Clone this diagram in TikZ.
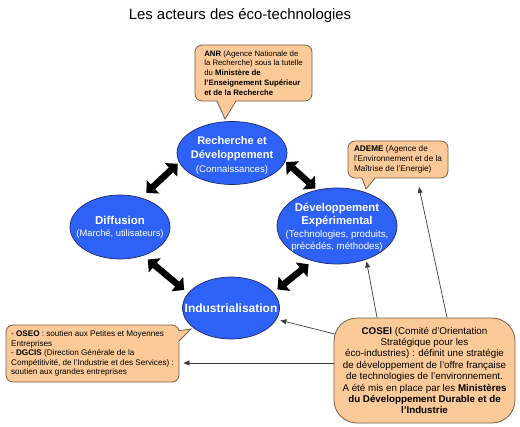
\documentclass[tikz,border=0pt]{standalone}
\usepackage{fontspec}
\setmainfont{Liberation Sans}
\usetikzlibrary{arrows.meta,shapes.geometric,calc}
\newcommand{\myfs}[2]{\fontsize{#1}{#2}\selectfont}
\definecolor{ellblue}{RGB}{46,98,246}
\definecolor{ellline}{RGB}{30,40,110}
\definecolor{callfill}{RGB}{251,202,152}
\definecolor{callline}{RGB}{115,95,75}
\definecolor{thinline}{RGB}{60,60,60}
\begin{document}
\begin{tikzpicture}[x=0.75pt,y=-0.75pt,
  ell/.style={ellipse, draw=ellline, fill=ellblue, line width=0.525pt, inner sep=0pt},
  elltxt/.style={text=white, align=center, inner sep=0pt},
  callbox/.style={draw=callline, fill=callfill, line width=0.6pt, rounded corners=5.25pt, inner sep=0pt},
  tailline/.style={draw=callline, line width=0.6pt, line join=miter},
  dbl/.style={line width=4.875pt, {Triangle[length=6.75pt,width=13.5pt]}-{Triangle[length=6.75pt,width=13.5pt]}},
  thinarr/.style={draw=thinline, line width=0.525pt, -{Triangle[length=4.5pt,width=3.75pt]}}
]
\fill[white] (0,0) rectangle (520,427);
\useasboundingbox (0,0) rectangle (520,427);

\node[font=\myfs{11.2}{13}, anchor=base] (title) at (240,20) {Les acteurs des éco-technologies};

% ellipses
\node[ell, minimum width=82.5pt, minimum height=47.25pt] (rd) at (232,153) {};
\node[elltxt, font=\myfs{8.3}{10.5}] (rdT) at (232,155) {\textbf{Recherche et}\\\textbf{Développement}\\{\myfs{7.2}{10.5}(Connaissances)}};

\node[ell, minimum width=75pt, minimum height=48pt] (diff) at (120,227) {};
\node[elltxt, font=\myfs{8.6}{9}] (diffT) at (120,227.5) {\textbf{Diffusion}\\{\myfs{7}{9}(Marché, utilisateurs)}};

\node[ell, minimum width=90pt, minimum height=57pt] (dev) at (337,226) {};
\node[elltxt, font=\myfs{8.5}{9.6}] (devT) at (337,227.5) {\textbf{Développement}\\\textbf{Expérimental}\\{\myfs{7.3}{9.4}(Technologies, produits,}\\{\myfs{7.3}{9.4}précédés, méthodes)}};

\node[ell, minimum width=72.75pt, minimum height=46.5pt] (ind) at (231,308) {};
\node[elltxt, font=\myfs{9}{10}\bfseries] (indT) at (231,308) {Industrialisation};

% double arrows
\draw[dbl, shorten <=5.25pt, shorten >=1.5pt] (diff.54) -- (rd.190);
\draw[dbl, shorten <=0.75pt, shorten >=1.5pt] (rd.351) -- (dev.119);
\draw[dbl, shorten <=4.5pt, shorten >=3.75pt] (diff.309) -- (ind.161);
\draw[dbl, shorten <=3.75pt, shorten >=3.75pt] (ind.20) -- (dev.235);

% ANR callout
\node[callbox, minimum width=87.75pt, minimum height=42pt, align=left, font=\myfs{5.85}{7.35}] (anr) at (253.5,73)
 {\textbf{ANR} (Agence Nationale de\\la Recherche) sous la tutelle\\du \textbf{Ministère de}\\\textbf{l’Enseignement Supérieur}\\\textbf{et de la Recherche}};
\fill[callfill] (217,99.5) -- (225,119) -- (236,99.5) -- cycle;
\draw[tailline] (217,101) -- (225,119) -- (236,101);

% ADEME callout
\node[callbox, minimum width=75pt, minimum height=27.75pt, align=left, font=\myfs{6.15}{7.5}] (ademe) at (398,159.5)
 {\textbf{ADEME} (Agence de\\l’Environnement et de la\\Maîtrise de l’Energie)};
\fill[callfill] (362,176.5) -- (366,189) -- (375,176.5) -- cycle;
\draw[tailline] (362,178) -- (366,189) -- (375,178);

% OSEO / DGCIS callout
\node[callbox, minimum width=129.75pt, minimum height=42.75pt, align=left, font=\myfs{6.1}{7.2}] (oseo) at (92.5,353.5)
 {- \textbf{OSEO} : soutien aux Petites et Moyennes\\Entreprises\\- \textbf{DGCIS} (Direction Générale de la\\Compétitivité, de l’Industrie et des Services) :\\soutien aux grandes entreprises};
\fill[callfill] (177,331) -- (191,329) -- (179,341) -- (177,341) -- cycle;
\draw[tailline] (178.6,330.8) -- (191,329) -- (179,341);

% COSEI
\node[callbox, rounded corners=17.25pt, minimum width=135.75pt, minimum height=78.75pt, align=center, font=\myfs{7.35}{8.55}] (cosei) at (424.5,370.5)
 {\textbf{COSEI} (Comité d’Orientation\\Stratégique pour les\\éco-industries) : définit une stratégie\\de développement de l’offre française\\de technologies de l’environnement.\\A été mis en place par les \textbf{Ministères}\\\textbf{du Développement Durable et de}\\\textbf{l’Industrie}};

% thin arrows from COSEI
\coordinate (ademeTip) at (419,187);
\draw[thinarr] ($(cosei.north)+(22.5,0)$) -- (ademeTip);
\draw[thinarr, shorten >=1.5pt] ($(cosei.north)+(-47.5,0)$) -- (dev.311);
\draw[thinarr, shorten >=3pt] ($(cosei.west)+(1,-36.5)$) -- (ind.346);
\draw[thinarr] ($(cosei.west)+(0,-7.5)$) -- ($(oseo.east)+(4,9.5)$);
\end{tikzpicture}
\end{document}
